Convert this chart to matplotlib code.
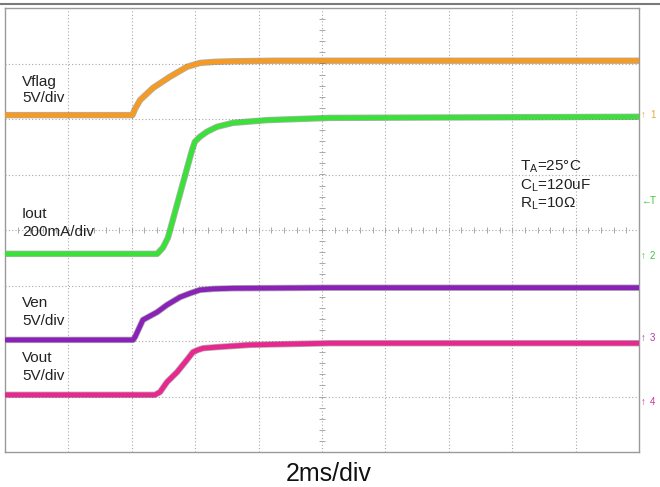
import numpy as np
import matplotlib.pyplot as plt
from matplotlib.lines import Line2D

plt.rcParams['font.family'] = ['Liberation Sans', 'DejaVu Sans']
plt.rcParams['mathtext.fontset'] = 'custom'
plt.rcParams['mathtext.rm'] = 'Liberation Sans'

# time in ms (2 ms/div, 10 div), levels in screen divisions (8 div)
vflag_t = [0, 4.02, 4.10, 4.26, 4.67, 5.20, 5.74, 6.15, 6.60, 7.19, 8.5, 20]
vflag_y = [6.07, 6.07, 6.18, 6.34, 6.56, 6.76, 6.94, 7.01, 7.03, 7.04, 7.05, 7.05]

iout_t = [0, 4.80, 4.98, 5.14, 5.90, 5.99, 6.15, 6.37, 6.69, 7.19, 8.27, 10.25, 20]
iout_y = [3.57, 3.57, 3.68, 3.86, 5.44, 5.59, 5.68, 5.77, 5.86, 5.93, 5.98, 6.02, 6.04]

ven_t = [0, 4.04, 4.10, 4.35, 4.80, 5.11, 5.52, 5.84, 6.15, 6.6, 7.19, 10.25, 20]
ven_y = [2.02, 2.02, 2.07, 2.38, 2.52, 2.65, 2.79, 2.86, 2.92, 2.94, 2.95, 2.96, 2.96]

vout_t = [0, 4.73, 4.89, 5.11, 5.43, 5.74, 5.93, 6.09, 6.25, 6.69, 7.73, 10.25, 20]
vout_y = [1.03, 1.03, 1.08, 1.26, 1.44, 1.66, 1.80, 1.84, 1.87, 1.89, 1.93, 1.96, 1.96]

traces = [
    (vflag_t, vflag_y, '#F59A23'),
    (iout_t, iout_y, '#3BE03B'),
    (ven_t, ven_y, '#8A22B8'),
    (vout_t, vout_y, '#E8288F'),
]

# channel ground markers on the right edge (label, level in div, colour)
markers = [
    ('1', 6.07, '#E8A93A'),
    ('T', 4.52, '#3BC83B'),
    ('2', 3.54, '#3BC83B'),
    ('3', 2.06, '#B03AA8'),
    ('4', 0.90, '#D0309A'),
]

W, H = 660, 487
fig = plt.figure(figsize=(6.6, 4.87), dpi=100)
ax = fig.add_axes([5 / W, 1 - 452 / H, 634 / W, 444 / H])
ax.set_xlim(0, 20)
ax.set_ylim(0, 8)

# graticule
for x in np.arange(2, 20, 2):
    ax.axvline(x, color='#a8a8a8', lw=0.8, ls=(0, (1, 2)), zorder=1)
for y in np.arange(1, 8, 1):
    ax.axhline(y, color='#a8a8a8', lw=0.8, ls=(0, (1, 2)), zorder=1)
ax.plot(np.arange(0.4, 20, 0.4), np.full(49, 4.0), ls='none', marker='|',
        ms=4, mew=0.7, color='#a8a8a8', zorder=1)
ax.plot(np.full(39, 10.0), np.arange(0.2, 8, 0.2), ls='none', marker='_',
        ms=4, mew=0.7, color='#a8a8a8', zorder=1)

for t, y, c in traces:
    ax.plot(t, y, color='#3a3a3a', lw=4.6, alpha=0.4, solid_capstyle='butt',
            solid_joinstyle='round', zorder=2)
    ax.plot(t, y, color=c, lw=3.5, solid_capstyle='butt',
            solid_joinstyle='round', zorder=3)

ax.set_xticks([])
ax.set_yticks([])
for s in ax.spines.values():
    s.set_color('#9a9a9a')
    s.set_linewidth(1.0)

fig.add_artist(Line2D([0, 1], [1 - 4 / H] * 2, color='#7a7a7a', lw=1.5))


def px(x, y):
    return x / W, 1 - y / H


labels = [('Vflag', 86), ('5V/div', 102), ('Iout', 218), ('200mA/div', 236),
          ('Ven', 307), ('5V/div', 325), ('Vout', 362), ('5V/div', 380)]
for s, yb in labels:
    fig.text(*px(22, yb), s, fontsize=11, va='baseline', ha='left', color='#222')

cond = [r'T$_{\mathregular{A}}$=25°C', r'C$_{\mathregular{L}}$=120uF',
        r'R$_{\mathregular{L}}$=10Ω']
for s, yb in zip(cond, [170, 189, 207]):
    fig.text(*px(520, yb), s, fontsize=11, va='baseline', ha='left', color='#222')

fig.text(*px(329, 481), '2ms/div', fontsize=18, va='baseline', ha='center', color='#111')

for lab, lvl, c in markers:
    yy = 452 - lvl * 55.5
    fig.text(*px(641, yy), '\u2190' if lab == 'T' else '\u2191', fontsize=7,
             va='center', ha='left', color=c)
    fig.text(*px(650, yy), lab, fontsize=7, va='center', ha='left', color=c)

fig.savefig('out.png', dpi=100)
